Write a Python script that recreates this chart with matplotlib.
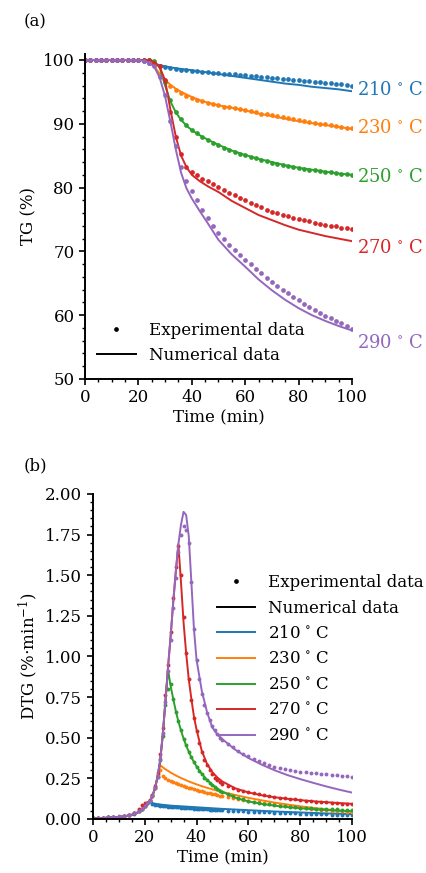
import numpy as np
import matplotlib
matplotlib.use("Agg")
import matplotlib.pyplot as plt
from matplotlib.lines import Line2D

plt.rcParams['font.family'] = ['DejaVu Serif']
plt.rcParams['mathtext.fontset'] = 'dejavuserif'
plt.rcParams['font.size'] = 12

temps = ['210', '230', '250', '270', '290']
colors = ['#1f77b4', '#ff7f0e', '#2ca02c', '#d62728', '#9467bd']

# ---- TG, experimental points (every 2 min) ----
t_tg_exp = np.arange(0, 101, 2)
tg_exp_210 = [100, 100, 100, 100, 100, 100, 100, 100, 100, 100, 100,
              99.9, 99.6, 99.35, 99.1, 98.9, 98.75, 98.6, 98.5, 98.4, 98.3,
              98.23, 98.16, 98.09, 98.02, 97.95, 97.88, 97.81, 97.74, 97.67, 97.6,
              97.52, 97.44, 97.36, 97.28, 97.2, 97.12, 97.04, 96.96, 96.88, 96.8,
              96.72, 96.64, 96.56, 96.48, 96.4, 96.32, 96.24, 96.16, 96.08, 96.0]
tg_exp_230 = [100, 100, 100, 100, 100, 100, 100, 100, 100, 100, 100,
              100, 99.9, 99.2, 97.8, 96.7, 95.9, 95.3, 94.8, 94.4, 94.1,
              93.8, 93.5, 93.3, 93.1, 92.9, 92.7, 92.6, 92.4, 92.3, 92.1,
              92.0, 91.8, 91.6, 91.5, 91.3, 91.2, 91.0, 90.9, 90.7, 90.6,
              90.4, 90.3, 90.1, 90.0, 89.9, 89.8, 89.6, 89.5, 89.4, 89.3]
tg_exp_250 = [100, 100, 100, 100, 100, 100, 100, 100, 100, 100, 100,
              100, 100, 99.9, 99.0, 96.5, 93.8, 91.9, 90.7, 89.8, 89.1,
              88.5, 88.0, 87.5, 87.0, 86.6, 86.2, 85.9, 85.6, 85.3, 85.1,
              84.8, 84.6, 84.3, 84.1, 83.9, 83.7, 83.5, 83.4, 83.2, 83.1,
              82.9, 82.8, 82.7, 82.6, 82.5, 82.4, 82.3, 82.2, 82.1, 82.0]
tg_exp_270 = [100, 100, 100, 100, 100, 100, 100, 100, 100, 100, 100,
              100, 100, 99.6, 99.0, 96.8, 91.8, 88.0, 85.2, 83.3, 82.5,
              81.9, 81.4, 81.0, 80.5, 80.1, 79.6, 79.2, 78.8, 78.4, 78.0,
              77.6, 77.2, 76.9, 76.5, 76.2, 76.0, 75.7, 75.5, 75.3, 75.1,
              74.9, 74.7, 74.5, 74.3, 74.2, 74.0, 73.9, 73.7, 73.6, 73.5]
tg_exp_290 = [100, 100, 100, 100, 100, 100, 100, 100, 100, 100, 100,
              99.9, 99.6, 99.0, 97.3, 94.5, 90.5, 86.5, 83.3, 81.0, 79.5,
              78.0, 76.5, 75.2, 74.0, 72.9, 71.9, 71.0, 70.2, 69.4, 68.7,
              68.0, 67.3, 66.6, 65.9, 65.2, 64.6, 64.0, 63.4, 62.8, 62.3,
              61.8, 61.3, 60.8, 60.3, 59.9, 59.5, 59.1, 58.7, 58.3, 57.9]

# ---- TG, numerical curves ----
t_tg_num = [0, 5, 10, 15, 20, 22, 24, 26, 28, 30, 32, 34, 36, 38, 40,
            43, 46, 50, 55, 60, 65, 70, 75, 80, 85, 90, 95, 100]
tg_num_210 = [100, 100, 100, 100, 100, 99.9, 99.7, 99.4, 99.2, 99.0, 98.85, 98.7, 98.6, 98.5, 98.4,
              98.2, 98.05, 97.8, 97.5, 97.2, 96.9, 96.6, 96.3, 96.1, 95.8, 95.6, 95.4, 95.1]
tg_num_230 = [100, 100, 100, 100, 100, 100, 99.9, 99.0, 97.8, 96.9, 96.1, 95.5, 95.0, 94.6, 94.2,
              93.7, 93.3, 92.9, 92.5, 92.1, 91.6, 91.2, 90.8, 90.4, 90.1, 89.8, 89.5, 89.2]
tg_num_250 = [100, 100, 100, 100, 100, 100, 100, 99.8, 98.8, 96.0, 93.5, 91.8, 90.6, 89.7, 89.0,
              88.2, 87.5, 86.7, 85.8, 85.1, 84.5, 84.0, 83.5, 83.1, 82.8, 82.5, 82.2, 82.0]
tg_num_270 = [100, 100, 100, 100, 100, 100, 100, 99.6, 98.9, 96.8, 92.2, 88.0, 85.0, 83.2, 82.0,
              81.0, 80.2, 79.3, 77.9, 76.8, 75.7, 74.9, 74.1, 73.4, 72.9, 72.4, 72.0, 71.6]
tg_num_290 = [100, 100, 100, 100, 100, 99.9, 99.6, 98.9, 97.2, 94.3, 90.3, 86.0, 82.3, 79.9, 78.3,
              76.3, 74.4, 71.8, 69.5, 67.6, 65.6, 63.9, 62.4, 61.1, 60.0, 59.1, 58.3, 57.6]

# ---- DTG, experimental points ----
t_dtg_exp = list(range(0, 19, 2)) + list(range(19, 51)) + list(range(52, 101, 2))
dtg_exp_210 = [0.004, 0.006, 0.007, 0.010, 0.011, 0.014, 0.018, 0.024, 0.033, 0.049,
               0.062, 0.078, 0.097, 0.108, 0.092, 0.085, 0.083, 0.080, 0.079, 0.077,
               0.076, 0.075, 0.073, 0.072, 0.071, 0.070, 0.068, 0.068, 0.066, 0.065,
               0.064, 0.063, 0.062, 0.061, 0.060, 0.059, 0.058, 0.057, 0.056, 0.055,
               0.054, 0.053,
               0.051, 0.050, 0.048, 0.047, 0.045, 0.044, 0.042, 0.041, 0.040, 0.038,
               0.037, 0.036, 0.035, 0.034, 0.033, 0.032, 0.031, 0.030, 0.029, 0.028,
               0.027, 0.026, 0.025, 0.025, 0.024]
dtg_exp_230 = [0.005, 0.005, 0.008, 0.009, 0.012, 0.015, 0.019, 0.026, 0.035, 0.051,
               0.064, 0.080, 0.097, 0.115, 0.145, 0.195, 0.27, 0.30, 0.265, 0.25,
               0.24, 0.232, 0.225, 0.219, 0.213, 0.208, 0.203, 0.198, 0.193, 0.189,
               0.183, 0.178, 0.174, 0.170, 0.166, 0.162, 0.158, 0.154, 0.151, 0.147,
               0.144, 0.141,
               0.135, 0.129, 0.123, 0.118, 0.112, 0.107, 0.102, 0.097, 0.093, 0.089,
               0.085, 0.081, 0.077, 0.073, 0.070, 0.066, 0.063, 0.060, 0.057, 0.054,
               0.051, 0.048, 0.046, 0.043, 0.041]
dtg_exp_250 = [0.005, 0.006, 0.007, 0.010, 0.012, 0.014, 0.019, 0.025, 0.034, 0.050,
               0.063, 0.079, 0.098, 0.112, 0.142, 0.190, 0.26, 0.36, 0.51, 0.70,
               0.80, 0.83, 0.74, 0.66, 0.60, 0.545, 0.495, 0.455, 0.415, 0.38,
               0.35, 0.32, 0.295, 0.275, 0.255, 0.238, 0.222, 0.208, 0.196, 0.185,
               0.175, 0.166,
               0.151, 0.139, 0.129, 0.120, 0.112, 0.106, 0.100, 0.095, 0.090, 0.086,
               0.082, 0.079, 0.076, 0.073, 0.070, 0.068, 0.066, 0.064, 0.062, 0.061,
               0.060, 0.059, 0.058, 0.057, 0.056]
dtg_exp_270 = [0.005, 0.006, 0.008, 0.010, 0.012, 0.015, 0.020, 0.026, 0.036, 0.060,
               0.085, 0.10, 0.10, 0.115, 0.145, 0.20, 0.28, 0.40, 0.56, 0.76,
               0.95, 1.15, 1.36, 1.55, 1.68, 1.50, 1.24, 1.02, 0.86, 0.73,
               0.62, 0.54, 0.47, 0.41, 0.365, 0.33, 0.30, 0.275, 0.255, 0.24,
               0.228, 0.218,
               0.203, 0.191, 0.181, 0.172, 0.164, 0.157, 0.151, 0.145, 0.140, 0.135,
               0.131, 0.127, 0.123, 0.120, 0.116, 0.113, 0.110, 0.107, 0.104, 0.102,
               0.099, 0.097, 0.095, 0.093, 0.091]
dtg_exp_290 = [0.005, 0.006, 0.007, 0.009, 0.011, 0.016, 0.019, 0.024, 0.035, 0.05,
               0.063, 0.08, 0.096, 0.11, 0.14, 0.19, 0.26, 0.37, 0.53, 0.72,
               0.91, 1.10, 1.30, 1.48, 1.64, 1.75, 1.80, 1.78, 1.70, 1.46,
               1.17, 0.98, 0.86, 0.77, 0.70, 0.65, 0.61, 0.575, 0.545, 0.52,
               0.50, 0.485,
               0.46, 0.44, 0.42, 0.40, 0.385, 0.37, 0.355, 0.342, 0.33, 0.32,
               0.312, 0.305, 0.30, 0.295, 0.29, 0.287, 0.283, 0.28, 0.277, 0.274,
               0.271, 0.268, 0.265, 0.262, 0.26]

# ---- DTG, numerical curves ----
t_dtg_num = [0, 4, 8, 12, 15, 17,
             19, 20, 21, 22, 23, 24, 25, 26, 27, 28, 29, 30, 31, 32, 33, 34, 35, 36, 37, 38, 39, 40,
             42, 44, 46, 48, 50, 55, 60, 65, 70, 75, 80, 85, 90, 95, 100]
dtg_num_210 = [0.004, 0.006, 0.009, 0.015, 0.025, 0.037,
               0.058, 0.073, 0.09, 0.105, 0.098, 0.094, 0.091, 0.089, 0.087, 0.085, 0.084,
               0.082, 0.081, 0.08, 0.079, 0.078, 0.077, 0.076, 0.075, 0.074, 0.073, 0.072,
               0.07, 0.068, 0.066, 0.064, 0.062, 0.058, 0.054, 0.05, 0.046, 0.043, 0.04,
               0.037, 0.034, 0.032, 0.03]
dtg_num_230 = [0.004, 0.006, 0.009, 0.015, 0.025, 0.037,
               0.058, 0.073, 0.09, 0.108, 0.14, 0.19, 0.26, 0.33, 0.318, 0.306, 0.296,
               0.286, 0.277, 0.268, 0.26, 0.252, 0.245, 0.238, 0.231, 0.225, 0.219, 0.213,
               0.202, 0.192, 0.183, 0.174, 0.166, 0.147, 0.13, 0.115, 0.101, 0.089, 0.078,
               0.068, 0.059, 0.051, 0.044]
dtg_num_250 = [0.004, 0.006, 0.009, 0.015, 0.025, 0.037,
               0.058, 0.073, 0.09, 0.108, 0.14, 0.19, 0.26, 0.36, 0.52, 0.72, 0.92,
               0.82, 0.74, 0.665, 0.6, 0.545, 0.495, 0.452, 0.414, 0.38, 0.35, 0.323,
               0.278, 0.241, 0.211, 0.187, 0.167, 0.13, 0.108, 0.093, 0.082, 0.073, 0.066,
               0.06, 0.055, 0.051, 0.048]
dtg_num_270 = [0.004, 0.006, 0.009, 0.015, 0.025, 0.037,
               0.058, 0.073, 0.09, 0.108, 0.14, 0.19, 0.26, 0.36, 0.52, 0.72, 0.93,
               1.12, 1.33, 1.52, 1.69, 1.46, 1.21, 1.02, 0.86, 0.74, 0.63, 0.55,
               0.42, 0.34, 0.29, 0.255, 0.23, 0.188, 0.163, 0.146, 0.134, 0.124, 0.116,
               0.109, 0.103, 0.098, 0.093]
dtg_num_290 = [0.004, 0.006, 0.009, 0.015, 0.025, 0.037,
               0.058, 0.073, 0.09, 0.108, 0.14, 0.19, 0.26, 0.36, 0.52, 0.72, 0.93,
               1.12, 1.33, 1.52, 1.69, 1.81, 1.89, 1.87, 1.74, 1.46, 1.17, 0.98,
               0.79, 0.66, 0.565, 0.52, 0.49, 0.425, 0.375, 0.335, 0.3, 0.27, 0.245,
               0.222, 0.2, 0.18, 0.162]

# where the temperature labels sit next to panel (a)
label_y = [95.3, 89.3, 81.7, 70.6, 55.6]

tg_exp = [tg_exp_210, tg_exp_230, tg_exp_250, tg_exp_270, tg_exp_290]
tg_num = [tg_num_210, tg_num_230, tg_num_250, tg_num_270, tg_num_290]
dtg_exp = [dtg_exp_210, dtg_exp_230, dtg_exp_250, dtg_exp_270, dtg_exp_290]
dtg_num = [dtg_num_210, dtg_num_230, dtg_num_250, dtg_num_270, dtg_num_290]


def grados(t):
    return t + r'$\,^\circ\,$C'


def estilo(ax):
    ax.spines['top'].set_visible(False)
    ax.spines['right'].set_visible(False)
    ax.spines['left'].set_linewidth(1.4)
    ax.spines['bottom'].set_linewidth(1.4)
    ax.tick_params(which='major', direction='out', length=4, width=1.2)
    ax.tick_params(which='minor', direction='out', length=2.3, width=1.0)


fig = plt.figure(figsize=(4.26, 8.73), dpi=100)

# (a) TG
ax1 = fig.add_axes([0.1995, 0.5659, 0.6268, 0.3727])
for i in range(5):
    ax1.plot(t_tg_exp, tg_exp[i], 'o', color=colors[i], ms=3.4, mew=0)
    ax1.plot(t_tg_num, tg_num[i], '-', color=colors[i], lw=1.4)
    ax1.text(102, label_y[i], grados(temps[i]), color=colors[i],
             fontsize=13, va='center', ha='left', clip_on=False)
ax1.set_xlim(0, 100)
ax1.set_ylim(50, 101)
ax1.set_xticks([0, 20, 40, 60, 80, 100])
ax1.set_xticks(np.arange(0, 101, 5), minor=True)
ax1.set_yticks([50, 60, 70, 80, 90, 100])
ax1.set_yticks(np.arange(50, 101, 2), minor=True)
ax1.set_xlabel('Time (min)', labelpad=2)
ax1.set_ylabel('TG (%)')
estilo(ax1)
h1 = [Line2D([], [], color='k', marker='o', ls='none', ms=3.4, mew=0),
      Line2D([], [], color='k', lw=1.4)]
ax1.legend(h1, ['Experimental data', 'Numerical data'], loc='lower left',
           frameon=False, handlelength=2.3, labelspacing=0.5,
           bbox_to_anchor=(-0.01, 0.0))
fig.text(0.055, 0.975, '(a)', fontsize=12, va='center')

# (b) DTG
ax2 = fig.add_axes([0.2176, 0.0619, 0.6094, 0.3723])
for i in range(5):
    ax2.plot(t_dtg_exp, dtg_exp[i], 'o', color=colors[i], ms=2.8, mew=0)
    ax2.plot(t_dtg_num, dtg_num[i], '-', color=colors[i], lw=1.4)
ax2.set_xlim(0, 100)
ax2.set_ylim(0, 2.0)
ax2.set_xticks([0, 20, 40, 60, 80, 100])
ax2.set_xticks(np.arange(0, 101, 5), minor=True)
ax2.set_yticks(np.arange(0, 2.01, 0.25))
ax2.set_yticks(np.arange(0, 2.01, 0.05), minor=True)
ax2.yaxis.set_major_formatter(matplotlib.ticker.FormatStrFormatter('%.2f'))
ax2.set_xlabel('Time (min)', labelpad=2)
ax2.set_ylabel(r'DTG (%$\cdot$min$^{-1}$)')
estilo(ax2)
h2 = [Line2D([], [], color='k', marker='o', ls='none', ms=3.4, mew=0),
      Line2D([], [], color='k', lw=1.4)]
l2 = ['Experimental data', 'Numerical data']
for i in range(5):
    h2.append(Line2D([], [], color=colors[i], lw=1.4))
    l2.append(grados(temps[i]))
ax2.legend(h2, l2, loc='upper left', frameon=False, handlelength=2.3,
           labelspacing=0.52, bbox_to_anchor=(0.42, 0.80))
fig.text(0.055, 0.466, '(b)', fontsize=12, va='center')

plt.savefig('out.png', dpi=100)
